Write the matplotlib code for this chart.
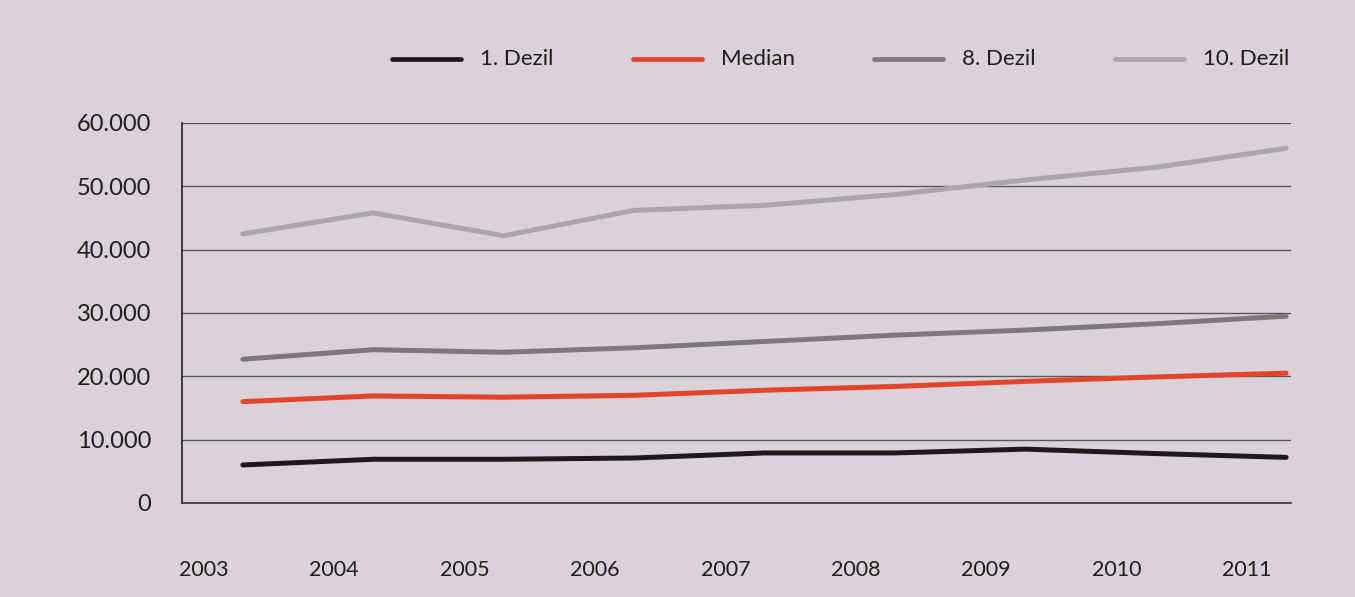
import numpy as np
import matplotlib
matplotlib.use("Agg")
import matplotlib.pyplot as plt
from matplotlib.lines import Line2D

plt.rcParams['font.family'] = ['Lato', 'DejaVu Sans']

years = np.array([2003, 2004, 2005, 2006, 2007, 2008, 2009, 2010, 2011])
dezil_1 = [6000, 6900, 6900, 7100, 7900, 7900, 8500, 7800, 7200]
median = [16000, 16900, 16700, 17000, 17800, 18400, 19200, 19900, 20500]
dezil_8 = [22700, 24200, 23800, 24500, 25500, 26500, 27300, 28300, 29500]
dezil_10 = [42500, 45800, 42200, 46200, 47000, 48700, 51000, 53000, 56000]

series = [
    ("1. Dezil", dezil_1, "#1c1a1c"),
    ("Median", median, "#e2452c"),
    ("8. Dezil", dezil_8, "#7b787b"),
    ("10. Dezil", dezil_10, "#aaa6aa"),
]

W, H = 1355, 597
bg = "#dbd2d9"
fig = plt.figure(figsize=(W / 100, H / 100), dpi=100, facecolor=bg)
ax = fig.add_axes([0.134, 0.1575, 0.819, 0.6365], facecolor=bg)

for label, values, color in series:
    ax.plot(years, values, color=color, lw=3.6, label=label, solid_capstyle="round")

ax.set_xlim(2002.53, 2011.04)
ax.set_ylim(0, 60000)
yticks = np.arange(0, 60001, 10000)
ax.set_yticks(yticks)
ax.set_yticklabels([f"{v:,}".replace(",", ".") for v in yticks])
# year labels sit a bit to the left of the data points in the original
ax.set_xticks(years - 0.3)
ax.set_xticklabels([str(y) for y in years])

ax.grid(axis="y", color="#5a565a", lw=1.0)
ax.set_axisbelow(True)
for side in ["top", "right"]:
    ax.spines[side].set_visible(False)
ax.spines["left"].set_color("#222")
ax.spines["left"].set_linewidth(1.2)
ax.spines["bottom"].set_color("#333")
ax.spines["bottom"].set_linewidth(1.2)
ax.tick_params(axis="both", length=0, colors="#1e1e1e")
ax.tick_params(axis="y", labelsize=17, pad=22)
ax.tick_params(axis="x", labelsize=15.5, pad=41)

# legend drawn by hand: equally spaced entries across the top
leg_y = 1 - 59 / H
for i, (label, values, color) in enumerate(series):
    x0 = (392 + i * 241) / W
    fig.add_artist(Line2D([x0, x0 + 69 / W], [leg_y, leg_y], color=color, lw=3.4,
                          solid_capstyle="round", transform=fig.transFigure))
    fig.text(x0 + 88 / W, leg_y, label, fontsize=16, color="#1e1e1e", va="center", ha="left")

fig.savefig("out.png", dpi=100, facecolor=bg)
